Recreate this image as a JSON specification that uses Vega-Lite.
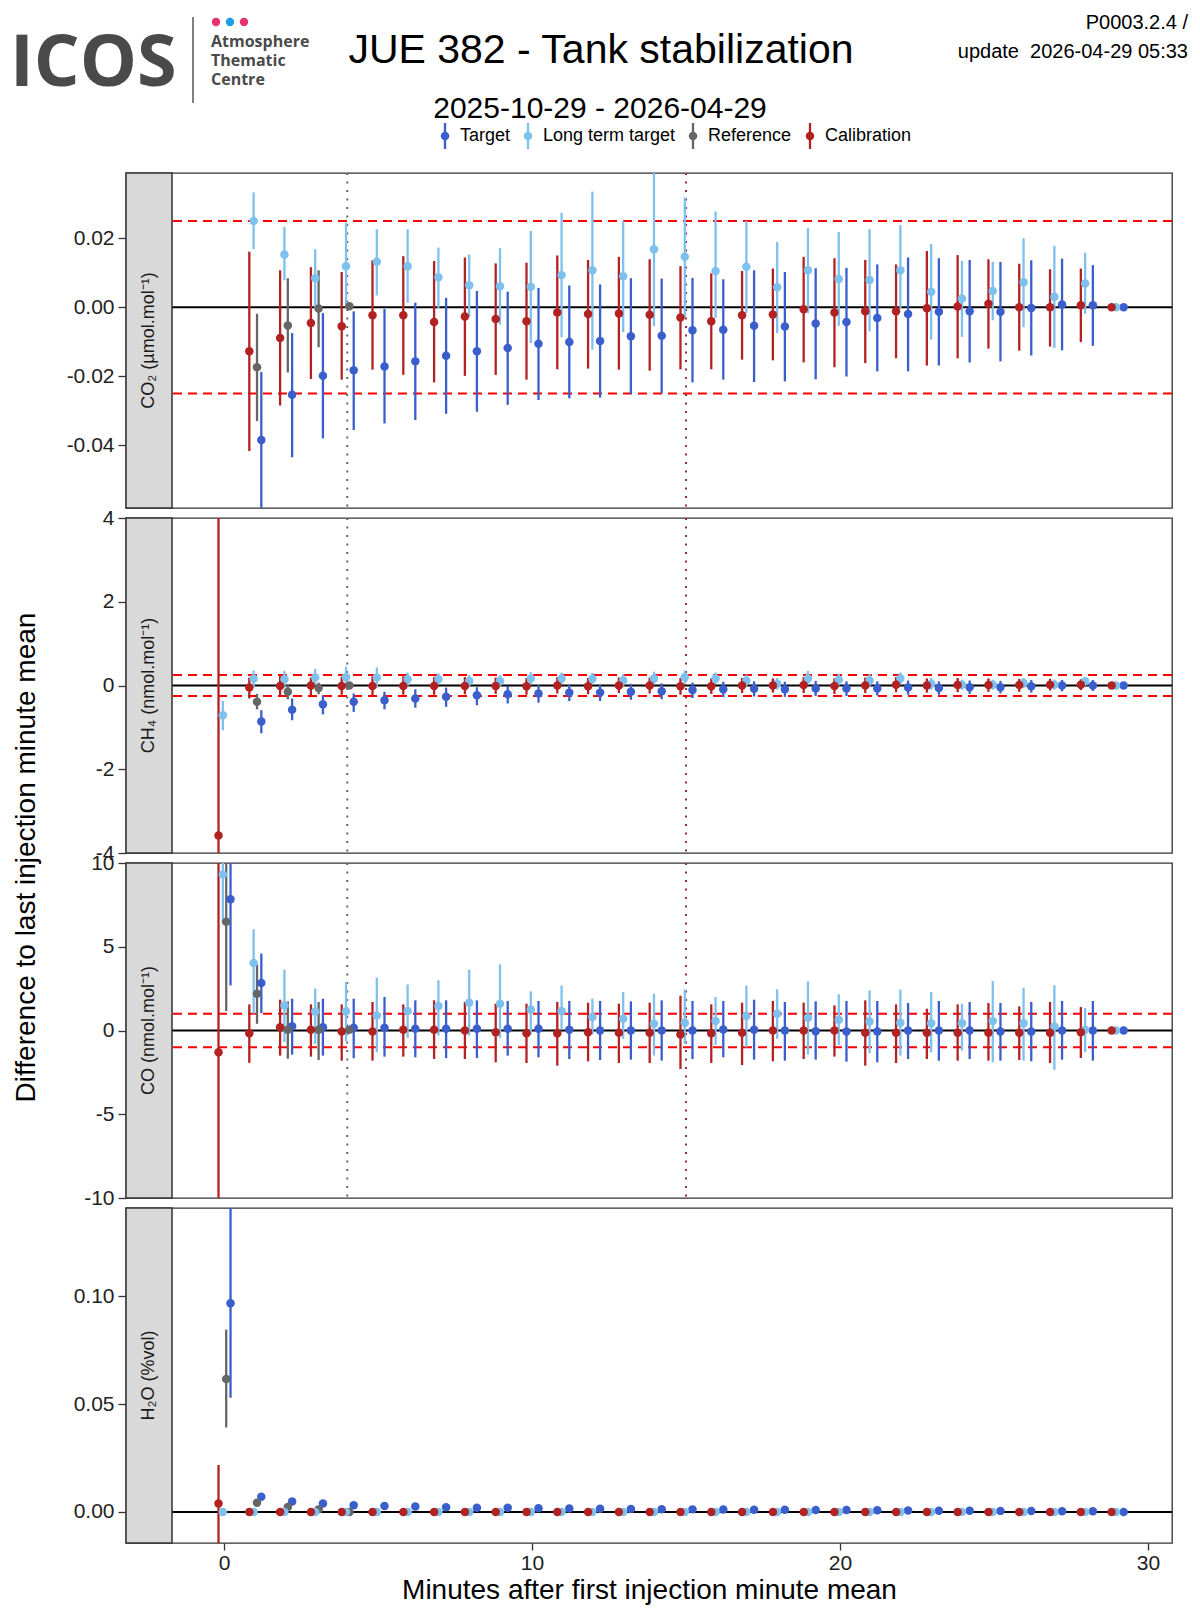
{
"$schema": "https://vega.github.io/schema/vega-lite/v6.json",
"padding": 0,
"autosize": {"type": "pad"},
"background": "#FFFFFF",
"bounds": "flush",
"spacing": 10,
"config": {
  "font": "Liberation Sans",
  "view": {"stroke": null},
  "axis": {"grid": false, "domain": false, "tickColor": "#333333", "tickWidth": 1.3, "tickSize": 8, "labelFontSize": 21, "labelColor": "#222222", "labelFont": "Liberation Sans", "labelPadding": 4, "titleFontSize": 28, "titleFontWeight": "normal", "titleColor": "#000000", "titleFont": "Liberation Sans"}
},
"datasets": {
"co2": [
{"s":"Target","m":1.21,"v":-0.0385,"lo":-0.065,"hi":-0.0188},
{"s":"Target","m":2.21,"v":-0.0254,"lo":-0.0435,"hi":-0.0075},
{"s":"Target","m":3.21,"v":-0.0199,"lo":-0.038,"hi":-0.0017},
{"s":"Target","m":4.21,"v":-0.0183,"lo":-0.0356,"hi":-0.0012},
{"s":"Target","m":5.21,"v":-0.0172,"lo":-0.0337,"hi":-0.0005},
{"s":"Target","m":6.21,"v":-0.0157,"lo":-0.0327,"hi":0.0013},
{"s":"Target","m":7.21,"v":-0.0141,"lo":-0.0309,"hi":0.0027},
{"s":"Target","m":8.21,"v":-0.0128,"lo":-0.0303,"hi":0.0047},
{"s":"Target","m":9.21,"v":-0.0118,"lo":-0.0283,"hi":0.0045},
{"s":"Target","m":10.21,"v":-0.0106,"lo":-0.0269,"hi":0.0056},
{"s":"Target","m":11.21,"v":-0.0101,"lo":-0.0264,"hi":0.0063},
{"s":"Target","m":12.21,"v":-0.0098,"lo":-0.0262,"hi":0.0066},
{"s":"Target","m":13.21,"v":-0.0084,"lo":-0.0252,"hi":0.0084},
{"s":"Target","m":14.21,"v":-0.0083,"lo":-0.0249,"hi":0.0083},
{"s":"Target","m":15.21,"v":-0.0067,"lo":-0.0218,"hi":0.0085},
{"s":"Target","m":16.21,"v":-0.0065,"lo":-0.021,"hi":0.0081},
{"s":"Target","m":17.21,"v":-0.0054,"lo":-0.0217,"hi":0.0107},
{"s":"Target","m":18.21,"v":-0.0056,"lo":-0.0215,"hi":0.0102},
{"s":"Target","m":19.21,"v":-0.0047,"lo":-0.0209,"hi":0.0113},
{"s":"Target","m":20.21,"v":-0.0043,"lo":-0.0201,"hi":0.0114},
{"s":"Target","m":21.21,"v":-0.0031,"lo":-0.0186,"hi":0.0124},
{"s":"Target","m":22.21,"v":-0.002,"lo":-0.0186,"hi":0.0144},
{"s":"Target","m":23.21,"v":-0.0013,"lo":-0.0169,"hi":0.0142},
{"s":"Target","m":24.21,"v":-0.0012,"lo":-0.016,"hi":0.0137},
{"s":"Target","m":25.21,"v":-0.0013,"lo":-0.0157,"hi":0.0131},
{"s":"Target","m":26.21,"v":-0.0002,"lo":-0.014,"hi":0.0136},
{"s":"Target","m":27.21,"v":0.0008,"lo":-0.0125,"hi":0.0141},
{"s":"Target","m":28.21,"v":0.0006,"lo":-0.0112,"hi":0.0122},
{"s":"Target","m":29.21,"v":0,"lo":0,"hi":0},
{"s":"Reference","m":1.07,"v":-0.0174,"lo":-0.033,"hi":-0.0019},
{"s":"Reference","m":2.07,"v":-0.0053,"lo":-0.0189,"hi":0.0084},
{"s":"Reference","m":3.07,"v":-0.0004,"lo":-0.0116,"hi":0.0107},
{"s":"Reference","m":4.07,"v":0.0003,"lo":-0.0004,"hi":0.001},
{"s":"Long term target","m":0.96,"v":0.025,"lo":0.0168,"hi":0.0333},
{"s":"Long term target","m":1.96,"v":0.0153,"lo":0.0078,"hi":0.0233},
{"s":"Long term target","m":2.96,"v":0.0084,"lo":-0.0002,"hi":0.0168},
{"s":"Long term target","m":3.96,"v":0.0119,"lo":-0.0002,"hi":0.0245},
{"s":"Long term target","m":4.96,"v":0.0132,"lo":0.0034,"hi":0.0226},
{"s":"Long term target","m":5.96,"v":0.0119,"lo":0.0013,"hi":0.0226},
{"s":"Long term target","m":6.96,"v":0.0087,"lo":-0.0002,"hi":0.0173},
{"s":"Long term target","m":7.96,"v":0.0064,"lo":-0.0028,"hi":0.0153},
{"s":"Long term target","m":8.96,"v":0.0061,"lo":-0.005,"hi":0.0171},
{"s":"Long term target","m":9.96,"v":0.0059,"lo":-0.0104,"hi":0.0221},
{"s":"Long term target","m":10.96,"v":0.0093,"lo":-0.0087,"hi":0.0273},
{"s":"Long term target","m":11.96,"v":0.0107,"lo":-0.0123,"hi":0.0335},
{"s":"Long term target","m":12.96,"v":0.009,"lo":-0.0072,"hi":0.025},
{"s":"Long term target","m":13.96,"v":0.0168,"lo":-0.0055,"hi":0.045},
{"s":"Long term target","m":14.96,"v":0.0146,"lo":-0.0031,"hi":0.0318},
{"s":"Long term target","m":15.96,"v":0.0105,"lo":-0.0031,"hi":0.0277},
{"s":"Long term target","m":16.96,"v":0.0117,"lo":-0.0017,"hi":0.025},
{"s":"Long term target","m":17.96,"v":0.0058,"lo":-0.0075,"hi":0.0189},
{"s":"Long term target","m":18.96,"v":0.0107,"lo":-0.0017,"hi":0.0229},
{"s":"Long term target","m":19.96,"v":0.0082,"lo":-0.0054,"hi":0.0218},
{"s":"Long term target","m":20.96,"v":0.0079,"lo":-0.007,"hi":0.0226},
{"s":"Long term target","m":21.96,"v":0.0107,"lo":-0.0002,"hi":0.0238},
{"s":"Long term target","m":22.96,"v":0.0045,"lo":-0.0094,"hi":0.0183},
{"s":"Long term target","m":23.96,"v":0.0025,"lo":-0.0086,"hi":0.0134},
{"s":"Long term target","m":24.96,"v":0.0047,"lo":-0.0038,"hi":0.0131},
{"s":"Long term target","m":25.96,"v":0.0072,"lo":-0.0058,"hi":0.02},
{"s":"Long term target","m":26.96,"v":0.003,"lo":-0.0118,"hi":0.0178},
{"s":"Long term target","m":27.96,"v":0.0069,"lo":-0.0019,"hi":0.0158},
{"s":"Long term target","m":28.96,"v":0,"lo":0,"hi":0},
{"s":"Calibration","m":0.82,"v":-0.0128,"lo":-0.0417,"hi":0.0161},
{"s":"Calibration","m":1.82,"v":-0.0089,"lo":-0.0285,"hi":0.0107},
{"s":"Calibration","m":2.82,"v":-0.0046,"lo":-0.0208,"hi":0.0116},
{"s":"Calibration","m":3.82,"v":-0.0055,"lo":-0.021,"hi":0.0102},
{"s":"Calibration","m":4.82,"v":-0.0023,"lo":-0.0181,"hi":0.0136},
{"s":"Calibration","m":5.82,"v":-0.0023,"lo":-0.0196,"hi":0.0148},
{"s":"Calibration","m":6.82,"v":-0.0043,"lo":-0.0218,"hi":0.0134},
{"s":"Calibration","m":7.82,"v":-0.0027,"lo":-0.0199,"hi":0.0144},
{"s":"Calibration","m":8.82,"v":-0.0034,"lo":-0.0196,"hi":0.0127},
{"s":"Calibration","m":9.82,"v":-0.0041,"lo":-0.021,"hi":0.0129},
{"s":"Calibration","m":10.82,"v":-0.0015,"lo":-0.018,"hi":0.015},
{"s":"Calibration","m":11.82,"v":-0.002,"lo":-0.0178,"hi":0.0137},
{"s":"Calibration","m":12.82,"v":-0.0018,"lo":-0.0181,"hi":0.0146},
{"s":"Calibration","m":13.82,"v":-0.0022,"lo":-0.0184,"hi":0.0139},
{"s":"Calibration","m":14.82,"v":-0.003,"lo":-0.018,"hi":0.0119},
{"s":"Calibration","m":15.82,"v":-0.0041,"lo":-0.018,"hi":0.0098},
{"s":"Calibration","m":16.82,"v":-0.0023,"lo":-0.0152,"hi":0.0105},
{"s":"Calibration","m":17.82,"v":-0.0021,"lo":-0.0154,"hi":0.0112},
{"s":"Calibration","m":18.82,"v":-0.0006,"lo":-0.016,"hi":0.0146},
{"s":"Calibration","m":19.82,"v":-0.0015,"lo":-0.0174,"hi":0.0142},
{"s":"Calibration","m":20.82,"v":-0.0012,"lo":-0.0162,"hi":0.0137},
{"s":"Calibration","m":21.82,"v":-0.0012,"lo":-0.0148,"hi":0.0124},
{"s":"Calibration","m":22.82,"v":-0.0003,"lo":-0.0169,"hi":0.0163},
{"s":"Calibration","m":23.82,"v":0.0002,"lo":-0.0148,"hi":0.0151},
{"s":"Calibration","m":24.82,"v":0.001,"lo":-0.012,"hi":0.0139},
{"s":"Calibration","m":25.82,"v":0,"lo":-0.0126,"hi":0.0126},
{"s":"Calibration","m":26.82,"v":0,"lo":-0.0114,"hi":0.011},
{"s":"Calibration","m":27.82,"v":0.0006,"lo":-0.0101,"hi":0.0112},
{"s":"Calibration","m":28.82,"v":0,"lo":0,"hi":0}
],
"ch4": [
{"s":"Target","m":1.21,"v":-0.86,"lo":-1.14,"hi":-0.59},
{"s":"Target","m":2.21,"v":-0.58,"lo":-0.83,"hi":-0.31},
{"s":"Target","m":3.21,"v":-0.45,"lo":-0.69,"hi":-0.23},
{"s":"Target","m":4.21,"v":-0.39,"lo":-0.63,"hi":-0.19},
{"s":"Target","m":5.21,"v":-0.35,"lo":-0.57,"hi":-0.15},
{"s":"Target","m":6.21,"v":-0.31,"lo":-0.53,"hi":-0.09},
{"s":"Target","m":7.21,"v":-0.27,"lo":-0.51,"hi":-0.05},
{"s":"Target","m":8.21,"v":-0.23,"lo":-0.47,"hi":-0.04},
{"s":"Target","m":9.21,"v":-0.21,"lo":-0.43,"hi":-0.01},
{"s":"Target","m":10.21,"v":-0.19,"lo":-0.41,"hi":0.01},
{"s":"Target","m":11.21,"v":-0.17,"lo":-0.37,"hi":0.02},
{"s":"Target","m":12.21,"v":-0.17,"lo":-0.37,"hi":0.02},
{"s":"Target","m":13.21,"v":-0.15,"lo":-0.34,"hi":0.04},
{"s":"Target","m":14.21,"v":-0.14,"lo":-0.33,"hi":0.05},
{"s":"Target","m":15.21,"v":-0.11,"lo":-0.3,"hi":0.07},
{"s":"Target","m":16.21,"v":-0.09,"lo":-0.28,"hi":0.09},
{"s":"Target","m":17.21,"v":-0.08,"lo":-0.26,"hi":0.1},
{"s":"Target","m":18.21,"v":-0.09,"lo":-0.27,"hi":0.09},
{"s":"Target","m":19.21,"v":-0.07,"lo":-0.25,"hi":0.11},
{"s":"Target","m":20.21,"v":-0.07,"lo":-0.25,"hi":0.1},
{"s":"Target","m":21.21,"v":-0.07,"lo":-0.24,"hi":0.1},
{"s":"Target","m":22.21,"v":-0.05,"lo":-0.22,"hi":0.12},
{"s":"Target","m":23.21,"v":-0.06,"lo":-0.22,"hi":0.1},
{"s":"Target","m":24.21,"v":-0.04,"lo":-0.2,"hi":0.12},
{"s":"Target","m":25.21,"v":-0.04,"lo":-0.19,"hi":0.11},
{"s":"Target","m":26.21,"v":-0.02,"lo":-0.17,"hi":0.13},
{"s":"Target","m":27.21,"v":0,"lo":-0.14,"hi":0.13},
{"s":"Target","m":28.21,"v":0,"lo":-0.13,"hi":0.13},
{"s":"Target","m":29.21,"v":0,"lo":0,"hi":0},
{"s":"Reference","m":1.07,"v":-0.39,"lo":-0.57,"hi":-0.2},
{"s":"Reference","m":2.07,"v":-0.15,"lo":-0.33,"hi":0.03},
{"s":"Reference","m":3.07,"v":-0.06,"lo":-0.21,"hi":0.07},
{"s":"Reference","m":4.07,"v":0,"lo":-0.03,"hi":0.03},
{"s":"Long term target","m":-0.04,"v":-0.71,"lo":-1.07,"hi":-0.37},
{"s":"Long term target","m":0.96,"v":0.16,"lo":-0.05,"hi":0.36},
{"s":"Long term target","m":1.96,"v":0.15,"lo":-0.05,"hi":0.35},
{"s":"Long term target","m":2.96,"v":0.19,"lo":-0.01,"hi":0.4},
{"s":"Long term target","m":3.96,"v":0.2,"lo":0,"hi":0.45},
{"s":"Long term target","m":4.96,"v":0.19,"lo":-0.05,"hi":0.43},
{"s":"Long term target","m":5.96,"v":0.15,"lo":-0.01,"hi":0.31},
{"s":"Long term target","m":6.96,"v":0.15,"lo":0.02,"hi":0.29},
{"s":"Long term target","m":7.96,"v":0.11,"lo":-0.02,"hi":0.25},
{"s":"Long term target","m":8.96,"v":0.11,"lo":-0.03,"hi":0.25},
{"s":"Long term target","m":9.96,"v":0.17,"lo":0.02,"hi":0.32},
{"s":"Long term target","m":10.96,"v":0.17,"lo":0.03,"hi":0.31},
{"s":"Long term target","m":11.96,"v":0.16,"lo":0.02,"hi":0.3},
{"s":"Long term target","m":12.96,"v":0.12,"lo":-0.02,"hi":0.27},
{"s":"Long term target","m":13.96,"v":0.17,"lo":0.02,"hi":0.33},
{"s":"Long term target","m":14.96,"v":0.2,"lo":0.04,"hi":0.36},
{"s":"Long term target","m":15.96,"v":0.17,"lo":0.03,"hi":0.31},
{"s":"Long term target","m":16.96,"v":0.12,"lo":-0.02,"hi":0.26},
{"s":"Long term target","m":17.96,"v":0.04,"lo":-0.1,"hi":0.18},
{"s":"Long term target","m":18.96,"v":0.17,"lo":0.01,"hi":0.35},
{"s":"Long term target","m":19.96,"v":0.14,"lo":0,"hi":0.28},
{"s":"Long term target","m":20.96,"v":0.12,"lo":-0.03,"hi":0.27},
{"s":"Long term target","m":21.96,"v":0.17,"lo":0.02,"hi":0.31},
{"s":"Long term target","m":22.96,"v":0.04,"lo":-0.1,"hi":0.18},
{"s":"Long term target","m":23.96,"v":0.02,"lo":-0.1,"hi":0.14},
{"s":"Long term target","m":24.96,"v":0.02,"lo":-0.1,"hi":0.14},
{"s":"Long term target","m":25.96,"v":0.06,"lo":-0.06,"hi":0.18},
{"s":"Long term target","m":26.96,"v":0.02,"lo":-0.1,"hi":0.14},
{"s":"Long term target","m":27.96,"v":0.1,"lo":0,"hi":0.2},
{"s":"Long term target","m":28.96,"v":0,"lo":0,"hi":0},
{"s":"Calibration","m":-0.18,"v":-3.58,"lo":-12,"hi":5},
{"s":"Calibration","m":0.82,"v":-0.05,"lo":-0.31,"hi":0.19},
{"s":"Calibration","m":1.82,"v":-0.01,"lo":-0.25,"hi":0.23},
{"s":"Calibration","m":2.82,"v":0,"lo":-0.23,"hi":0.19},
{"s":"Calibration","m":3.82,"v":-0.01,"lo":-0.22,"hi":0.21},
{"s":"Calibration","m":4.82,"v":-0.01,"lo":-0.24,"hi":0.22},
{"s":"Calibration","m":5.82,"v":-0.01,"lo":-0.22,"hi":0.22},
{"s":"Calibration","m":6.82,"v":-0.01,"lo":-0.22,"hi":0.2},
{"s":"Calibration","m":7.82,"v":-0.01,"lo":-0.21,"hi":0.2},
{"s":"Calibration","m":8.82,"v":-0.01,"lo":-0.2,"hi":0.19},
{"s":"Calibration","m":9.82,"v":-0.02,"lo":-0.22,"hi":0.18},
{"s":"Calibration","m":10.82,"v":0,"lo":-0.19,"hi":0.2},
{"s":"Calibration","m":11.82,"v":-0.02,"lo":-0.21,"hi":0.18},
{"s":"Calibration","m":12.82,"v":0,"lo":-0.18,"hi":0.19},
{"s":"Calibration","m":13.82,"v":0,"lo":-0.19,"hi":0.19},
{"s":"Calibration","m":14.82,"v":-0.02,"lo":-0.22,"hi":0.18},
{"s":"Calibration","m":15.82,"v":-0.02,"lo":-0.2,"hi":0.17},
{"s":"Calibration","m":16.82,"v":0,"lo":-0.18,"hi":0.18},
{"s":"Calibration","m":17.82,"v":0,"lo":-0.17,"hi":0.17},
{"s":"Calibration","m":18.82,"v":0.01,"lo":-0.18,"hi":0.2},
{"s":"Calibration","m":19.82,"v":-0.01,"lo":-0.2,"hi":0.17},
{"s":"Calibration","m":20.82,"v":0,"lo":-0.18,"hi":0.19},
{"s":"Calibration","m":21.82,"v":0.02,"lo":-0.16,"hi":0.2},
{"s":"Calibration","m":22.82,"v":0,"lo":-0.17,"hi":0.17},
{"s":"Calibration","m":23.82,"v":0.01,"lo":-0.16,"hi":0.18},
{"s":"Calibration","m":24.82,"v":0.01,"lo":-0.15,"hi":0.17},
{"s":"Calibration","m":25.82,"v":0.01,"lo":-0.15,"hi":0.16},
{"s":"Calibration","m":26.82,"v":0.02,"lo":-0.12,"hi":0.16},
{"s":"Calibration","m":27.82,"v":0.02,"lo":-0.11,"hi":0.15},
{"s":"Calibration","m":28.82,"v":0,"lo":0,"hi":0}
],
"co": [
{"s":"Target","m":0.21,"v":7.84,"lo":2.69,"hi":13},
{"s":"Target","m":1.21,"v":2.84,"lo":1.04,"hi":4.59},
{"s":"Target","m":2.21,"v":0.26,"lo":-1.44,"hi":1.9},
{"s":"Target","m":3.21,"v":0.2,"lo":-1.5,"hi":1.9},
{"s":"Target","m":4.21,"v":0.16,"lo":-1.65,"hi":1.9},
{"s":"Target","m":5.21,"v":0.16,"lo":-1.56,"hi":2},
{"s":"Target","m":6.21,"v":0.1,"lo":-1.6,"hi":1.8},
{"s":"Target","m":7.21,"v":0.1,"lo":-1.65,"hi":1.8},
{"s":"Target","m":8.21,"v":0.1,"lo":-1.65,"hi":1.8},
{"s":"Target","m":9.21,"v":0.1,"lo":-1.5,"hi":1.76},
{"s":"Target","m":10.21,"v":0.1,"lo":-1.6,"hi":1.76},
{"s":"Target","m":11.21,"v":0.04,"lo":-1.7,"hi":1.76},
{"s":"Target","m":12.21,"v":0,"lo":-1.76,"hi":1.76},
{"s":"Target","m":13.21,"v":0,"lo":-1.74,"hi":1.74},
{"s":"Target","m":14.21,"v":0,"lo":-1.8,"hi":1.8},
{"s":"Target","m":15.21,"v":0,"lo":-1.7,"hi":1.76},
{"s":"Target","m":16.21,"v":0.06,"lo":-1.6,"hi":1.76},
{"s":"Target","m":17.21,"v":0.04,"lo":-1.74,"hi":1.84},
{"s":"Target","m":18.21,"v":0,"lo":-1.8,"hi":1.7},
{"s":"Target","m":19.21,"v":-0.04,"lo":-1.74,"hi":1.74},
{"s":"Target","m":20.21,"v":-0.06,"lo":-1.86,"hi":1.76},
{"s":"Target","m":21.21,"v":-0.06,"lo":-1.9,"hi":1.76},
{"s":"Target","m":22.21,"v":0,"lo":-1.7,"hi":1.64},
{"s":"Target","m":23.21,"v":0,"lo":-1.8,"hi":1.76},
{"s":"Target","m":24.21,"v":0,"lo":-1.7,"hi":1.7},
{"s":"Target","m":25.21,"v":-0.06,"lo":-1.8,"hi":1.64},
{"s":"Target","m":26.21,"v":-0.06,"lo":-1.84,"hi":1.7},
{"s":"Target","m":27.21,"v":0,"lo":-1.74,"hi":1.76},
{"s":"Target","m":28.21,"v":0,"lo":-1.8,"hi":1.76},
{"s":"Target","m":29.21,"v":0,"lo":0,"hi":0},
{"s":"Reference","m":0.07,"v":6.49,"lo":1.16,"hi":11.8},
{"s":"Reference","m":1.07,"v":2.2,"lo":0.4,"hi":3.95},
{"s":"Reference","m":2.07,"v":0.04,"lo":-1.69,"hi":1.74},
{"s":"Reference","m":3.07,"v":0.04,"lo":-1.76,"hi":1.7},
{"s":"Reference","m":4.07,"v":0.04,"lo":-0.1,"hi":0.2},
{"s":"Long term target","m":-0.04,"v":9.32,"lo":6.39,"hi":12.5},
{"s":"Long term target","m":0.96,"v":4.03,"lo":1,"hi":6.05},
{"s":"Long term target","m":1.96,"v":1.5,"lo":-0.7,"hi":3.63},
{"s":"Long term target","m":2.96,"v":1.14,"lo":-0.8,"hi":2.5},
{"s":"Long term target","m":3.96,"v":1.14,"lo":-0.64,"hi":2.9},
{"s":"Long term target","m":4.96,"v":0.9,"lo":-1.3,"hi":3.16},
{"s":"Long term target","m":5.96,"v":1.16,"lo":-0.44,"hi":2.75},
{"s":"Long term target","m":6.96,"v":1.46,"lo":-0.3,"hi":3},
{"s":"Long term target","m":7.96,"v":1.66,"lo":-0.3,"hi":3.63},
{"s":"Long term target","m":8.96,"v":1.6,"lo":-0.44,"hi":3.95},
{"s":"Long term target","m":9.96,"v":1.26,"lo":-0.24,"hi":2.34},
{"s":"Long term target","m":10.96,"v":1.16,"lo":0.04,"hi":2.68},
{"s":"Long term target","m":11.96,"v":0.8,"lo":-0.24,"hi":1.9},
{"s":"Long term target","m":12.96,"v":0.7,"lo":-0.5,"hi":2.3},
{"s":"Long term target","m":13.96,"v":0.4,"lo":-1.5,"hi":2.2},
{"s":"Long term target","m":14.96,"v":0.46,"lo":-0.8,"hi":2.44},
{"s":"Long term target","m":15.96,"v":0.56,"lo":-0.86,"hi":2},
{"s":"Long term target","m":16.96,"v":0.86,"lo":-1,"hi":2.68},
{"s":"Long term target","m":17.96,"v":1,"lo":-0.5,"hi":2.46},
{"s":"Long term target","m":18.96,"v":0.76,"lo":-1.44,"hi":2.93},
{"s":"Long term target","m":19.96,"v":0.64,"lo":-0.86,"hi":2.16},
{"s":"Long term target","m":20.96,"v":0.54,"lo":-1.36,"hi":2.4},
{"s":"Long term target","m":21.96,"v":0.46,"lo":-1.5,"hi":2.44},
{"s":"Long term target","m":22.96,"v":0.44,"lo":-1.3,"hi":2.3},
{"s":"Long term target","m":23.96,"v":0.44,"lo":-1.2,"hi":1.6},
{"s":"Long term target","m":24.96,"v":0.56,"lo":-1.9,"hi":2.95},
{"s":"Long term target","m":25.96,"v":0.44,"lo":-1.8,"hi":2.55},
{"s":"Long term target","m":26.96,"v":0.24,"lo":-2.34,"hi":2.7},
{"s":"Long term target","m":27.96,"v":0.04,"lo":-1.3,"hi":1.34},
{"s":"Long term target","m":28.96,"v":0,"lo":0,"hi":0},
{"s":"Calibration","m":-0.18,"v":-1.3,"lo":-14,"hi":12},
{"s":"Calibration","m":0.82,"v":-0.16,"lo":-1.93,"hi":1.56},
{"s":"Calibration","m":1.82,"v":0.2,"lo":-1.5,"hi":1.84},
{"s":"Calibration","m":2.82,"v":0.04,"lo":-1.56,"hi":1.56},
{"s":"Calibration","m":3.82,"v":-0.06,"lo":-1.8,"hi":1.56},
{"s":"Calibration","m":4.82,"v":-0.06,"lo":-1.8,"hi":1.7},
{"s":"Calibration","m":5.82,"v":0.04,"lo":-1.56,"hi":1.56},
{"s":"Calibration","m":6.82,"v":0.04,"lo":-1.7,"hi":1.8},
{"s":"Calibration","m":7.82,"v":0,"lo":-1.7,"hi":1.7},
{"s":"Calibration","m":8.82,"v":-0.1,"lo":-1.9,"hi":1.6},
{"s":"Calibration","m":9.82,"v":-0.16,"lo":-1.94,"hi":1.6},
{"s":"Calibration","m":10.82,"v":-0.16,"lo":-2.1,"hi":1.7},
{"s":"Calibration","m":11.82,"v":-0.1,"lo":-1.84,"hi":1.66},
{"s":"Calibration","m":12.82,"v":-0.14,"lo":-1.94,"hi":1.6},
{"s":"Calibration","m":13.82,"v":-0.14,"lo":-1.94,"hi":1.66},
{"s":"Calibration","m":14.82,"v":-0.24,"lo":-2.3,"hi":2.08},
{"s":"Calibration","m":15.82,"v":-0.16,"lo":-1.94,"hi":1.56},
{"s":"Calibration","m":16.82,"v":-0.14,"lo":-2.06,"hi":1.66},
{"s":"Calibration","m":17.82,"v":0,"lo":-1.84,"hi":1.76},
{"s":"Calibration","m":18.82,"v":0,"lo":-1.7,"hi":1.66},
{"s":"Calibration","m":19.82,"v":0,"lo":-1.56,"hi":1.5},
{"s":"Calibration","m":20.82,"v":-0.14,"lo":-2.1,"hi":1.8},
{"s":"Calibration","m":21.82,"v":-0.14,"lo":-1.94,"hi":1.56},
{"s":"Calibration","m":22.82,"v":-0.14,"lo":-1.7,"hi":1.3},
{"s":"Calibration","m":23.82,"v":-0.14,"lo":-1.8,"hi":1.56},
{"s":"Calibration","m":24.82,"v":-0.14,"lo":-1.8,"hi":1.64},
{"s":"Calibration","m":25.82,"v":-0.14,"lo":-1.76,"hi":1.44},
{"s":"Calibration","m":26.82,"v":-0.14,"lo":-1.94,"hi":1.7},
{"s":"Calibration","m":27.82,"v":-0.1,"lo":-1.64,"hi":1.4},
{"s":"Calibration","m":28.82,"v":0,"lo":0,"hi":0}
],
"h2o": [
{"s":"Target","m":0.21,"v":0.0968,"lo":0.053,"hi":0.145},
{"s":"Target","m":1.21,"v":0.0071,"lo":0.0068,"hi":0.0074},
{"s":"Target","m":2.21,"v":0.0048,"lo":0.0046,"hi":0.005},
{"s":"Target","m":3.21,"v":0.0039,"lo":0.0037,"hi":0.0041},
{"s":"Target","m":4.21,"v":0.0031,"lo":0.003,"hi":0.0032},
{"s":"Target","m":5.21,"v":0.0028,"lo":0.0027,"hi":0.0029},
{"s":"Target","m":6.21,"v":0.0025,"lo":0.0024,"hi":0.0026},
{"s":"Target","m":7.21,"v":0.0022,"lo":0.0021,"hi":0.0023},
{"s":"Target","m":8.21,"v":0.002,"lo":0.0019,"hi":0.0021},
{"s":"Target","m":9.21,"v":0.0019,"lo":0.0018,"hi":0.002},
{"s":"Target","m":10.21,"v":0.0017,"lo":0.0016,"hi":0.0018},
{"s":"Target","m":11.21,"v":0.0016,"lo":0.0015,"hi":0.0017},
{"s":"Target","m":12.21,"v":0.0015,"lo":0.0014,"hi":0.0016},
{"s":"Target","m":13.21,"v":0.0014,"lo":0.0013,"hi":0.0015},
{"s":"Target","m":14.21,"v":0.0013,"lo":0.0012,"hi":0.0014},
{"s":"Target","m":15.21,"v":0.0012,"lo":0.0011,"hi":0.0013},
{"s":"Target","m":16.21,"v":0.0011,"lo":0.001,"hi":0.0012},
{"s":"Target","m":17.21,"v":0.001,"lo":0.0009,"hi":0.0011},
{"s":"Target","m":18.21,"v":0.001,"lo":0.0009,"hi":0.0011},
{"s":"Target","m":19.21,"v":0.0009,"lo":0.0008,"hi":0.001},
{"s":"Target","m":20.21,"v":0.0009,"lo":0.0008,"hi":0.001},
{"s":"Target","m":21.21,"v":0.0008,"lo":0.0007,"hi":0.0009},
{"s":"Target","m":22.21,"v":0.0007,"lo":0.0006,"hi":0.0008},
{"s":"Target","m":23.21,"v":0.0006,"lo":0.0005,"hi":0.0007},
{"s":"Target","m":24.21,"v":0.0006,"lo":0.0005,"hi":0.0007},
{"s":"Target","m":25.21,"v":0.0005,"lo":0.0004,"hi":0.0006},
{"s":"Target","m":26.21,"v":0.0004,"lo":0.0003,"hi":0.0005},
{"s":"Target","m":27.21,"v":0.0003,"lo":0.0002,"hi":0.0004},
{"s":"Target","m":28.21,"v":0.0003,"lo":0.0002,"hi":0.0004},
{"s":"Target","m":29.21,"v":0,"lo":0,"hi":0},
{"s":"Reference","m":0.07,"v":0.0617,"lo":0.0392,"hi":0.0846},
{"s":"Reference","m":1.07,"v":0.0043,"lo":0.004,"hi":0.0046},
{"s":"Reference","m":2.07,"v":0.0023,"lo":0.0021,"hi":0.0025},
{"s":"Reference","m":3.07,"v":0.0012,"lo":0.0011,"hi":0.0013},
{"s":"Reference","m":4.07,"v":0,"lo":0,"hi":0},
{"s":"Long term target","m":-0.04,"v":0,"lo":-0.0003,"hi":0.0003},
{"s":"Long term target","m":0.96,"v":0,"lo":0,"hi":0},
{"s":"Long term target","m":1.96,"v":0,"lo":0,"hi":0},
{"s":"Long term target","m":2.96,"v":0,"lo":0,"hi":0},
{"s":"Long term target","m":3.96,"v":0,"lo":0,"hi":0},
{"s":"Long term target","m":4.96,"v":0,"lo":0,"hi":0},
{"s":"Long term target","m":5.96,"v":0,"lo":0,"hi":0},
{"s":"Long term target","m":6.96,"v":0,"lo":0,"hi":0},
{"s":"Long term target","m":7.96,"v":0,"lo":0,"hi":0},
{"s":"Long term target","m":8.96,"v":0,"lo":0,"hi":0},
{"s":"Long term target","m":9.96,"v":0,"lo":0,"hi":0},
{"s":"Long term target","m":10.96,"v":0,"lo":0,"hi":0},
{"s":"Long term target","m":11.96,"v":0,"lo":0,"hi":0},
{"s":"Long term target","m":12.96,"v":0,"lo":0,"hi":0},
{"s":"Long term target","m":13.96,"v":0,"lo":0,"hi":0},
{"s":"Long term target","m":14.96,"v":0,"lo":0,"hi":0},
{"s":"Long term target","m":15.96,"v":0,"lo":0,"hi":0},
{"s":"Long term target","m":16.96,"v":0,"lo":0,"hi":0},
{"s":"Long term target","m":17.96,"v":0,"lo":0,"hi":0},
{"s":"Long term target","m":18.96,"v":0,"lo":0,"hi":0},
{"s":"Long term target","m":19.96,"v":0,"lo":0,"hi":0},
{"s":"Long term target","m":20.96,"v":0,"lo":0,"hi":0},
{"s":"Long term target","m":21.96,"v":0,"lo":0,"hi":0},
{"s":"Long term target","m":22.96,"v":0,"lo":0,"hi":0},
{"s":"Long term target","m":23.96,"v":0,"lo":0,"hi":0},
{"s":"Long term target","m":24.96,"v":0,"lo":0,"hi":0},
{"s":"Long term target","m":25.96,"v":0,"lo":0,"hi":0},
{"s":"Long term target","m":26.96,"v":0,"lo":0,"hi":0},
{"s":"Long term target","m":27.96,"v":0,"lo":0,"hi":0},
{"s":"Long term target","m":28.96,"v":0,"lo":0,"hi":0},
{"s":"Calibration","m":-0.18,"v":0.0039,"lo":-0.016,"hi":0.0218},
{"s":"Calibration","m":0.82,"v":0,"lo":0,"hi":0},
{"s":"Calibration","m":1.82,"v":0,"lo":0,"hi":0},
{"s":"Calibration","m":2.82,"v":0,"lo":0,"hi":0},
{"s":"Calibration","m":3.82,"v":0,"lo":0,"hi":0},
{"s":"Calibration","m":4.82,"v":0,"lo":0,"hi":0},
{"s":"Calibration","m":5.82,"v":0,"lo":0,"hi":0},
{"s":"Calibration","m":6.82,"v":0,"lo":0,"hi":0},
{"s":"Calibration","m":7.82,"v":0,"lo":0,"hi":0},
{"s":"Calibration","m":8.82,"v":0,"lo":0,"hi":0},
{"s":"Calibration","m":9.82,"v":0,"lo":0,"hi":0},
{"s":"Calibration","m":10.82,"v":0,"lo":0,"hi":0},
{"s":"Calibration","m":11.82,"v":0,"lo":0,"hi":0},
{"s":"Calibration","m":12.82,"v":0,"lo":0,"hi":0},
{"s":"Calibration","m":13.82,"v":0,"lo":0,"hi":0},
{"s":"Calibration","m":14.82,"v":0,"lo":0,"hi":0},
{"s":"Calibration","m":15.82,"v":0,"lo":0,"hi":0},
{"s":"Calibration","m":16.82,"v":0,"lo":0,"hi":0},
{"s":"Calibration","m":17.82,"v":0,"lo":0,"hi":0},
{"s":"Calibration","m":18.82,"v":0,"lo":0,"hi":0},
{"s":"Calibration","m":19.82,"v":0,"lo":0,"hi":0},
{"s":"Calibration","m":20.82,"v":0,"lo":0,"hi":0},
{"s":"Calibration","m":21.82,"v":0,"lo":0,"hi":0},
{"s":"Calibration","m":22.82,"v":0,"lo":0,"hi":0},
{"s":"Calibration","m":23.82,"v":0,"lo":0,"hi":0},
{"s":"Calibration","m":24.82,"v":0,"lo":0,"hi":0},
{"s":"Calibration","m":25.82,"v":0,"lo":0,"hi":0},
{"s":"Calibration","m":26.82,"v":0,"lo":0,"hi":0},
{"s":"Calibration","m":27.82,"v":0,"lo":0,"hi":0},
{"s":"Calibration","m":28.82,"v":0,"lo":0,"hi":0}
]
},
"vconcat": [
{
  "width": 1046, "height": 163,
  "data": {"values": [{}]},
  "layer": [
    {"mark": {"type": "rect", "fill": "#FFFFFF"}, "encoding": {
      "x": {"datum": 0, "type": "quantitative", "scale": {"domain": [126, 1172], "nice": false, "zero": false}, "axis": null},
      "x2": {"datum": 1200},
      "y": {"datum": 0, "type": "quantitative", "scale": {"domain": [0, 163], "reverse": true, "nice": false, "zero": false}, "axis": null},
      "y2": {"datum": 163}}},
    {"mark": {"type": "text", "text": "ICOS", "font": "Open Sans", "fontWeight": "bold", "fontSize": 72, "align": "left", "baseline": "alphabetic", "color": "#4A4A4A"}, "encoding": {"x": {"datum": 10, "axis": null}, "y": {"datum": 86, "axis": null}}},
    {"mark": {"type": "rule", "color": "#555555", "strokeWidth": 1.5}, "encoding": {"x": {"datum": 193, "axis": null}, "y": {"datum": 17, "axis": null}, "y2": {"datum": 103}}},
    {"mark": {"type": "point", "filled": true, "opacity": 1, "size": 70, "color": "#E6336E"}, "encoding": {"x": {"datum": 216, "axis": null}, "y": {"datum": 22, "axis": null}}},
    {"mark": {"type": "point", "filled": true, "opacity": 1, "size": 70, "color": "#1E9DE6"}, "encoding": {"x": {"datum": 230, "axis": null}, "y": {"datum": 22, "axis": null}}},
    {"mark": {"type": "point", "filled": true, "opacity": 1, "size": 70, "color": "#E6336E"}, "encoding": {"x": {"datum": 244, "axis": null}, "y": {"datum": 22, "axis": null}}},
    {"mark": {"type": "text", "text": "Atmosphere", "font": "Open Sans", "fontWeight": "bold", "fontSize": 16, "align": "left", "baseline": "alphabetic", "color": "#4A4A4A"}, "encoding": {"x": {"datum": 211, "axis": null}, "y": {"datum": 47, "axis": null}}},
    {"mark": {"type": "text", "text": "Thematic", "font": "Open Sans", "fontWeight": "bold", "fontSize": 16, "align": "left", "baseline": "alphabetic", "color": "#4A4A4A"}, "encoding": {"x": {"datum": 211, "axis": null}, "y": {"datum": 66, "axis": null}}},
    {"mark": {"type": "text", "text": "Centre", "font": "Open Sans", "fontWeight": "bold", "fontSize": 16, "align": "left", "baseline": "alphabetic", "color": "#4A4A4A"}, "encoding": {"x": {"datum": 211, "axis": null}, "y": {"datum": 85, "axis": null}}},
    {"mark": {"type": "text", "text": "JUE 382 - Tank stabilization", "fontSize": 41, "align": "center", "baseline": "alphabetic", "color": "#000000"}, "encoding": {"x": {"datum": 601, "axis": null}, "y": {"datum": 63, "axis": null}}},
    {"mark": {"type": "text", "text": "2025-10-29 - 2026-04-29", "fontSize": 30, "align": "center", "baseline": "alphabetic", "color": "#000000"}, "encoding": {"x": {"datum": 600, "axis": null}, "y": {"datum": 118, "axis": null}}},
    {"mark": {"type": "text", "text": "P0003.2.4 /", "fontSize": 20, "align": "right", "baseline": "alphabetic", "color": "#000000"}, "encoding": {"x": {"datum": 1188, "axis": null}, "y": {"datum": 29, "axis": null}}},
    {"mark": {"type": "text", "text": "update\u00a0 2026-04-29 05:33", "fontSize": 20, "align": "right", "baseline": "alphabetic", "color": "#000000"}, "encoding": {"x": {"datum": 1188, "axis": null}, "y": {"datum": 58, "axis": null}}},
    {"mark": {"type": "rule", "color": "#3A5FCD", "strokeWidth": 2.3}, "encoding": {"x": {"datum": 445, "axis": null}, "y": {"datum": 123, "axis": null}, "y2": {"datum": 149}}},
    {"mark": {"type": "point", "filled": true, "opacity": 1, "size": 72, "color": "#3A5FCD"}, "encoding": {"x": {"datum": 445, "axis": null}, "y": {"datum": 136, "axis": null}}},
    {"mark": {"type": "text", "text": "Target", "fontSize": 18, "align": "left", "baseline": "middle", "color": "#000000"}, "encoding": {"x": {"datum": 460, "axis": null}, "y": {"datum": 136, "axis": null}}},
    {"mark": {"type": "rule", "color": "#7EC0EE", "strokeWidth": 2.3}, "encoding": {"x": {"datum": 528, "axis": null}, "y": {"datum": 123, "axis": null}, "y2": {"datum": 149}}},
    {"mark": {"type": "point", "filled": true, "opacity": 1, "size": 72, "color": "#7EC0EE"}, "encoding": {"x": {"datum": 528, "axis": null}, "y": {"datum": 136, "axis": null}}},
    {"mark": {"type": "text", "text": "Long term target", "fontSize": 18, "align": "left", "baseline": "middle", "color": "#000000"}, "encoding": {"x": {"datum": 543, "axis": null}, "y": {"datum": 136, "axis": null}}},
    {"mark": {"type": "rule", "color": "#666666", "strokeWidth": 2.3}, "encoding": {"x": {"datum": 693, "axis": null}, "y": {"datum": 123, "axis": null}, "y2": {"datum": 149}}},
    {"mark": {"type": "point", "filled": true, "opacity": 1, "size": 72, "color": "#666666"}, "encoding": {"x": {"datum": 693, "axis": null}, "y": {"datum": 136, "axis": null}}},
    {"mark": {"type": "text", "text": "Reference", "fontSize": 18, "align": "left", "baseline": "middle", "color": "#000000"}, "encoding": {"x": {"datum": 708, "axis": null}, "y": {"datum": 136, "axis": null}}},
    {"mark": {"type": "rule", "color": "#B22222", "strokeWidth": 2.3}, "encoding": {"x": {"datum": 810, "axis": null}, "y": {"datum": 123, "axis": null}, "y2": {"datum": 149}}},
    {"mark": {"type": "point", "filled": true, "opacity": 1, "size": 72, "color": "#B22222"}, "encoding": {"x": {"datum": 810, "axis": null}, "y": {"datum": 136, "axis": null}}},
    {"mark": {"type": "text", "text": "Calibration", "fontSize": 18, "align": "left", "baseline": "middle", "color": "#000000"}, "encoding": {"x": {"datum": 825, "axis": null}, "y": {"datum": 136, "axis": null}}}
  ]
},
{
  "width": 1046, "height": 335, "view": {"stroke": "#333333", "strokeWidth": 1.3},
  "data": {"name": "co2"},
  "resolve": {"axis": {"x": "independent", "y": "independent"}},
  "layer": [
    {"data": {"values": [{}]}, "mark": {"type": "rule", "color": "#000000", "strokeWidth": 2}, "encoding": {"y": {"datum": 0, "type": "quantitative", "scale": {"domain": [-0.0582, 0.0389], "nice": false, "zero": false}, "axis": null}}},
    {"data": {"values": [{"thr": 0.025}, {"thr": -0.025}]}, "mark": {"type": "rule", "color": "#FF0000", "strokeWidth": 2, "strokeDash": [9, 6]}, "encoding": {"y": {"field": "thr", "type": "quantitative", "axis": null}}},
    {"data": {"values": [{}]}, "mark": {"type": "rule", "color": "#666666", "strokeWidth": 2, "strokeDash": [2, 6.5]}, "encoding": {"x": {"datum": 4, "type": "quantitative", "scale": {"domain": [-3.184, 30.78], "nice": false, "zero": false}, "axis": null}}},
    {"data": {"values": [{}]}, "mark": {"type": "rule", "color": "#8B2F48", "strokeWidth": 2, "strokeDash": [2, 6.5]}, "encoding": {"x": {"datum": 15, "type": "quantitative", "axis": null}}},
    {"mark": {"type": "rule", "strokeWidth": 2.3, "clip": true}, "encoding": {
      "x": {"field": "m", "type": "quantitative", "axis": null},
      "y": {"field": "lo", "type": "quantitative", "axis": null}, "y2": {"field": "hi"},
      "color": {"field": "s", "type": "nominal", "scale": {"domain": ["Target", "Long term target", "Reference", "Calibration"], "range": ["#3A5FCD", "#7EC0EE", "#666666", "#B22222"]}, "legend": null}}},
    {"mark": {"type": "point", "filled": true, "opacity": 1, "size": 72, "clip": true}, "encoding": {
      "x": {"field": "m", "type": "quantitative", "axis": null},
      "y": {"field": "v", "type": "quantitative", "axis": {"orient": "left", "values": [-0.04, -0.02, 0, 0.02], "format": ".2f", "labelExpr": "replace(datum.label, '\u2212', '-')", "title": null}},
      "color": {"field": "s", "type": "nominal", "scale": {"domain": ["Target", "Long term target", "Reference", "Calibration"], "range": ["#3A5FCD", "#7EC0EE", "#666666", "#B22222"]}, "legend": null}}},
    {"data": {"values": [{}]}, "mark": {"type": "rect", "fill": "#D9D9D9", "stroke": "#333333", "strokeWidth": 1.5}, "encoding": {"x": {"datum": -3.184, "axis": null}, "x2": {"datum": -1.69}, "y": {"datum": -0.0582, "axis": null}, "y2": {"datum": 0.0389}}},
    {"data": {"values": [{"label": "CO₂ (µmol.mol⁻¹)"}]}, "mark": {"type": "text", "angle": 270, "fontSize": 18, "color": "#1A1A1A", "baseline": "middle", "align": "center"}, "encoding": {"x": {"datum": -2.437, "axis": null}, "y": {"datum": -0.00965, "axis": null}, "text": {"field": "label", "type": "nominal"}}}
  ]
},
{
  "width": 1046, "height": 335, "view": {"stroke": "#333333", "strokeWidth": 1.3},
  "data": {"name": "ch4"},
  "resolve": {"axis": {"x": "independent", "y": "independent"}},
  "layer": [
    {"data": {"values": [{}]}, "mark": {"type": "rule", "color": "#000000", "strokeWidth": 2}, "encoding": {"y": {"datum": 0, "type": "quantitative", "scale": {"domain": [-4, 4], "nice": false, "zero": false}, "axis": null}}},
    {"data": {"values": [{"thr": 0.25}, {"thr": -0.25}]}, "mark": {"type": "rule", "color": "#FF0000", "strokeWidth": 2, "strokeDash": [9, 6]}, "encoding": {"y": {"field": "thr", "type": "quantitative", "axis": null}}},
    {"data": {"values": [{}]}, "mark": {"type": "rule", "color": "#666666", "strokeWidth": 2, "strokeDash": [2, 6.5]}, "encoding": {"x": {"datum": 4, "type": "quantitative", "scale": {"domain": [-3.184, 30.78], "nice": false, "zero": false}, "axis": null}}},
    {"data": {"values": [{}]}, "mark": {"type": "rule", "color": "#8B2F48", "strokeWidth": 2, "strokeDash": [2, 6.5]}, "encoding": {"x": {"datum": 15, "type": "quantitative", "axis": null}}},
    {"mark": {"type": "rule", "strokeWidth": 2.3, "clip": true}, "encoding": {
      "x": {"field": "m", "type": "quantitative", "axis": null},
      "y": {"field": "lo", "type": "quantitative", "axis": null}, "y2": {"field": "hi"},
      "color": {"field": "s", "type": "nominal", "scale": {"domain": ["Target", "Long term target", "Reference", "Calibration"], "range": ["#3A5FCD", "#7EC0EE", "#666666", "#B22222"]}, "legend": null}}},
    {"mark": {"type": "point", "filled": true, "opacity": 1, "size": 72, "clip": true}, "encoding": {
      "x": {"field": "m", "type": "quantitative", "axis": null},
      "y": {"field": "v", "type": "quantitative", "axis": {"orient": "left", "values": [-4, -2, 0, 2, 4], "format": "d", "labelExpr": "replace(datum.label, '\u2212', '-')", "title": "Difference to last injection minute mean", "titleX": -100, "titleY": 339, "titleAngle": 270, "titleAlign": "center", "titleBaseline": "middle"}},
      "color": {"field": "s", "type": "nominal", "scale": {"domain": ["Target", "Long term target", "Reference", "Calibration"], "range": ["#3A5FCD", "#7EC0EE", "#666666", "#B22222"]}, "legend": null}}},
    {"data": {"values": [{}]}, "mark": {"type": "rect", "fill": "#D9D9D9", "stroke": "#333333", "strokeWidth": 1.5}, "encoding": {"x": {"datum": -3.184, "axis": null}, "x2": {"datum": -1.69}, "y": {"datum": -4, "axis": null}, "y2": {"datum": 4}}},
    {"data": {"values": [{"label": "CH₄ (nmol.mol⁻¹)"}]}, "mark": {"type": "text", "angle": 270, "fontSize": 18, "color": "#1A1A1A", "baseline": "middle", "align": "center"}, "encoding": {"x": {"datum": -2.437, "axis": null}, "y": {"datum": 0, "axis": null}, "text": {"field": "label", "type": "nominal"}}}
  ]
},
{
  "width": 1046, "height": 335, "view": {"stroke": "#333333", "strokeWidth": 1.3},
  "data": {"name": "co"},
  "resolve": {"axis": {"x": "independent", "y": "independent"}},
  "layer": [
    {"data": {"values": [{}]}, "mark": {"type": "rule", "color": "#000000", "strokeWidth": 2}, "encoding": {"y": {"datum": 0, "type": "quantitative", "scale": {"domain": [-10, 10], "nice": false, "zero": false}, "axis": null}}},
    {"data": {"values": [{"thr": 1}, {"thr": -1}]}, "mark": {"type": "rule", "color": "#FF0000", "strokeWidth": 2, "strokeDash": [9, 6]}, "encoding": {"y": {"field": "thr", "type": "quantitative", "axis": null}}},
    {"data": {"values": [{}]}, "mark": {"type": "rule", "color": "#666666", "strokeWidth": 2, "strokeDash": [2, 6.5]}, "encoding": {"x": {"datum": 4, "type": "quantitative", "scale": {"domain": [-3.184, 30.78], "nice": false, "zero": false}, "axis": null}}},
    {"data": {"values": [{}]}, "mark": {"type": "rule", "color": "#8B2F48", "strokeWidth": 2, "strokeDash": [2, 6.5]}, "encoding": {"x": {"datum": 15, "type": "quantitative", "axis": null}}},
    {"mark": {"type": "rule", "strokeWidth": 2.3, "clip": true}, "encoding": {
      "x": {"field": "m", "type": "quantitative", "axis": null},
      "y": {"field": "lo", "type": "quantitative", "axis": null}, "y2": {"field": "hi"},
      "color": {"field": "s", "type": "nominal", "scale": {"domain": ["Target", "Long term target", "Reference", "Calibration"], "range": ["#3A5FCD", "#7EC0EE", "#666666", "#B22222"]}, "legend": null}}},
    {"mark": {"type": "point", "filled": true, "opacity": 1, "size": 72, "clip": true}, "encoding": {
      "x": {"field": "m", "type": "quantitative", "axis": null},
      "y": {"field": "v", "type": "quantitative", "axis": {"orient": "left", "values": [-10, -5, 0, 5, 10], "format": "d", "labelExpr": "replace(datum.label, '\u2212', '-')", "title": null}},
      "color": {"field": "s", "type": "nominal", "scale": {"domain": ["Target", "Long term target", "Reference", "Calibration"], "range": ["#3A5FCD", "#7EC0EE", "#666666", "#B22222"]}, "legend": null}}},
    {"data": {"values": [{}]}, "mark": {"type": "rect", "fill": "#D9D9D9", "stroke": "#333333", "strokeWidth": 1.5}, "encoding": {"x": {"datum": -3.184, "axis": null}, "x2": {"datum": -1.69}, "y": {"datum": -10, "axis": null}, "y2": {"datum": 10}}},
    {"data": {"values": [{"label": "CO (nmol.mol⁻¹)"}]}, "mark": {"type": "text", "angle": 270, "fontSize": 18, "color": "#1A1A1A", "baseline": "middle", "align": "center"}, "encoding": {"x": {"datum": -2.437, "axis": null}, "y": {"datum": 0, "axis": null}, "text": {"field": "label", "type": "nominal"}}}
  ]
},
{
  "width": 1046, "height": 335, "view": {"stroke": "#333333", "strokeWidth": 1.3},
  "data": {"name": "h2o"},
  "resolve": {"axis": {"x": "independent", "y": "independent"}},
  "layer": [
    {"data": {"values": [{}]}, "mark": {"type": "rule", "color": "#000000", "strokeWidth": 2}, "encoding": {"y": {"datum": 0, "type": "quantitative", "scale": {"domain": [-0.0144, 0.141], "nice": false, "zero": false}, "axis": null}}},
    {"mark": {"type": "rule", "strokeWidth": 2.3, "clip": true}, "encoding": {
      "x": {"field": "m", "type": "quantitative", "scale": {"domain": [-3.184, 30.78], "nice": false, "zero": false}, "axis": null},
      "y": {"field": "lo", "type": "quantitative", "axis": null}, "y2": {"field": "hi"},
      "color": {"field": "s", "type": "nominal", "scale": {"domain": ["Target", "Long term target", "Reference", "Calibration"], "range": ["#3A5FCD", "#7EC0EE", "#666666", "#B22222"]}, "legend": null}}},
    {"mark": {"type": "point", "filled": true, "opacity": 1, "size": 72, "clip": true}, "encoding": {
      "x": {"field": "m", "type": "quantitative", "axis": {"orient": "bottom", "values": [0, 10, 20, 30], "format": "d", "tickSize": 7, "labelPadding": 2, "title": "Minutes after first injection minute mean", "titlePadding": 3}},
      "y": {"field": "v", "type": "quantitative", "axis": {"orient": "left", "values": [0, 0.05, 0.1], "format": ".2f", "title": null}},
      "color": {"field": "s", "type": "nominal", "scale": {"domain": ["Target", "Long term target", "Reference", "Calibration"], "range": ["#3A5FCD", "#7EC0EE", "#666666", "#B22222"]}, "legend": null}}},
    {"data": {"values": [{}]}, "mark": {"type": "rect", "fill": "#D9D9D9", "stroke": "#333333", "strokeWidth": 1.5}, "encoding": {"x": {"datum": -3.184, "axis": null}, "x2": {"datum": -1.69}, "y": {"datum": -0.0144, "axis": null}, "y2": {"datum": 0.141}}},
    {"data": {"values": [{"label": "H₂O (%vol)"}]}, "mark": {"type": "text", "angle": 270, "fontSize": 18, "color": "#1A1A1A", "baseline": "middle", "align": "center"}, "encoding": {"x": {"datum": -2.437, "axis": null}, "y": {"datum": 0.0633, "axis": null}, "text": {"field": "label", "type": "nominal"}}}
  ]
}
]
}
